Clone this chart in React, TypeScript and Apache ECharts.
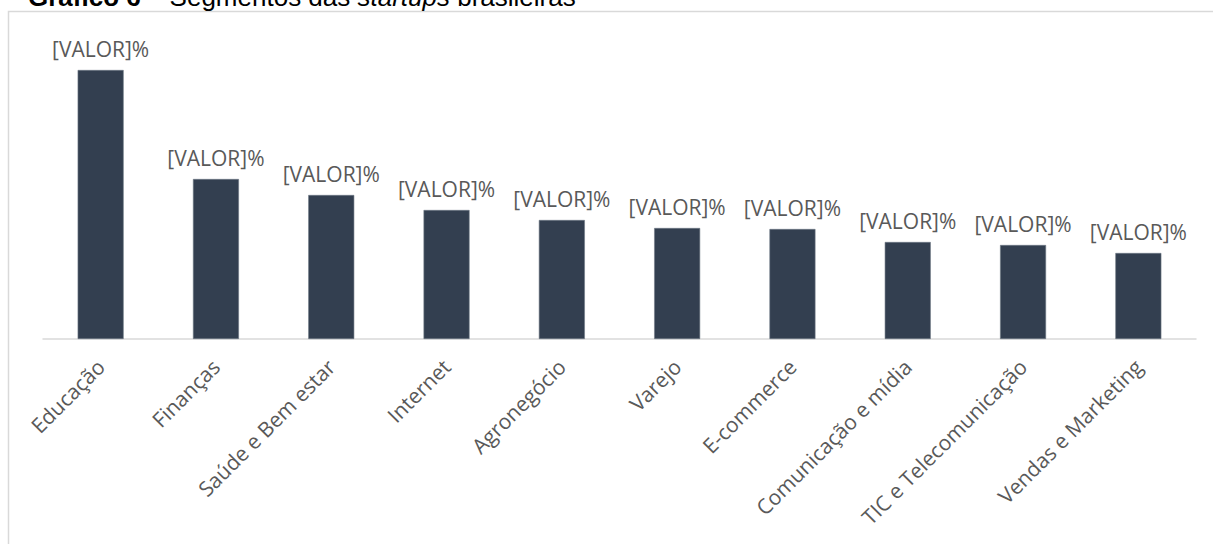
import React, { useEffect, useRef } from "react";
import * as echarts from "echarts";

const categories = [
  "Educação",
  "Finanças",
  "Saúde e Bem estar",
  "Internet",
  "Agronegócio",
  "Varejo",
  "E-commerce",
  "Comunicação e mídia",
  "TIC e Telecomunicação",
  "Vendas e Marketing",
];

const values = [26.9, 16.0, 14.4, 12.9, 11.9, 11.1, 11.0, 9.7, 9.4, 8.6];

const labelText = "[VALOR]%";

export default function App() {
  const ref = useRef<HTMLDivElement>(null);

  useEffect(() => {
    if (!ref.current) return;
    const chart = echarts.init(ref.current, null, { renderer: "svg" });
    chart.setOption({
      animation: false,
      backgroundColor: "#ffffff",
      grid: { left: 43, right: 17, top: 60, bottom: 205, containLabel: false },
      xAxis: {
        type: "category",
        data: categories,
        axisLine: { show: true, lineStyle: { color: "#d9d9d9", width: 1.5 } },
        axisTick: { show: false },
        axisLabel: {
          interval: 0,
          rotate: 45,
          margin: 24,
          fontSize: 21,
          color: "#595959",
          fontFamily: "Open Sans",
        },
      },
      yAxis: {
        type: "value",
        show: false,
        min: 0,
        max: 27.9,
        splitLine: { show: false },
      },
      series: [
        {
          type: "bar",
          data: values,
          barWidth: 46,
          itemStyle: { color: "#333f50", borderColor: "#6f7985", borderWidth: 0.6 },
          label: {
            show: true,
            position: "top",
            distance: 11,
            formatter: () => labelText,
            fontSize: 21,
            color: "#595959",
            fontFamily: "Open Sans",
          },
        },
      ],
      graphic: [
        {
          type: "rect",
          shape: { x: 8.5, y: 11.5, width: 1230, height: 560 },
          style: { fill: "none", stroke: "#d9d9d9", lineWidth: 1.5 },
          silent: true,
        },
        {
          type: "text",
          x: 28,
          y: -3,
          style: {
            text: "{b|Gráfico 6}{r| – Segmentos das }{i|startups}{r| brasileiras}",
            verticalAlign: "middle",
            align: "left",
            rich: {
              b: { fontFamily: "Liberation Sans", fontSize: 26, fontWeight: "bold", fill: "#000000", lineHeight: 26 },
              r: { fontFamily: "Liberation Sans", fontSize: 26, fill: "#000000", lineHeight: 26 },
              i: { fontFamily: "Liberation Sans", fontSize: 26, fontStyle: "italic", fill: "#000000", lineHeight: 26 },
            },
          },
          z: 10,
        },
      ],
    });
    return () => chart.dispose();
  }, []);

  return (
    <div
      ref={ref}
      style={{ position: "absolute", left: 0, top: 0, width: 1213, height: 544 }}
    />
  );
}
